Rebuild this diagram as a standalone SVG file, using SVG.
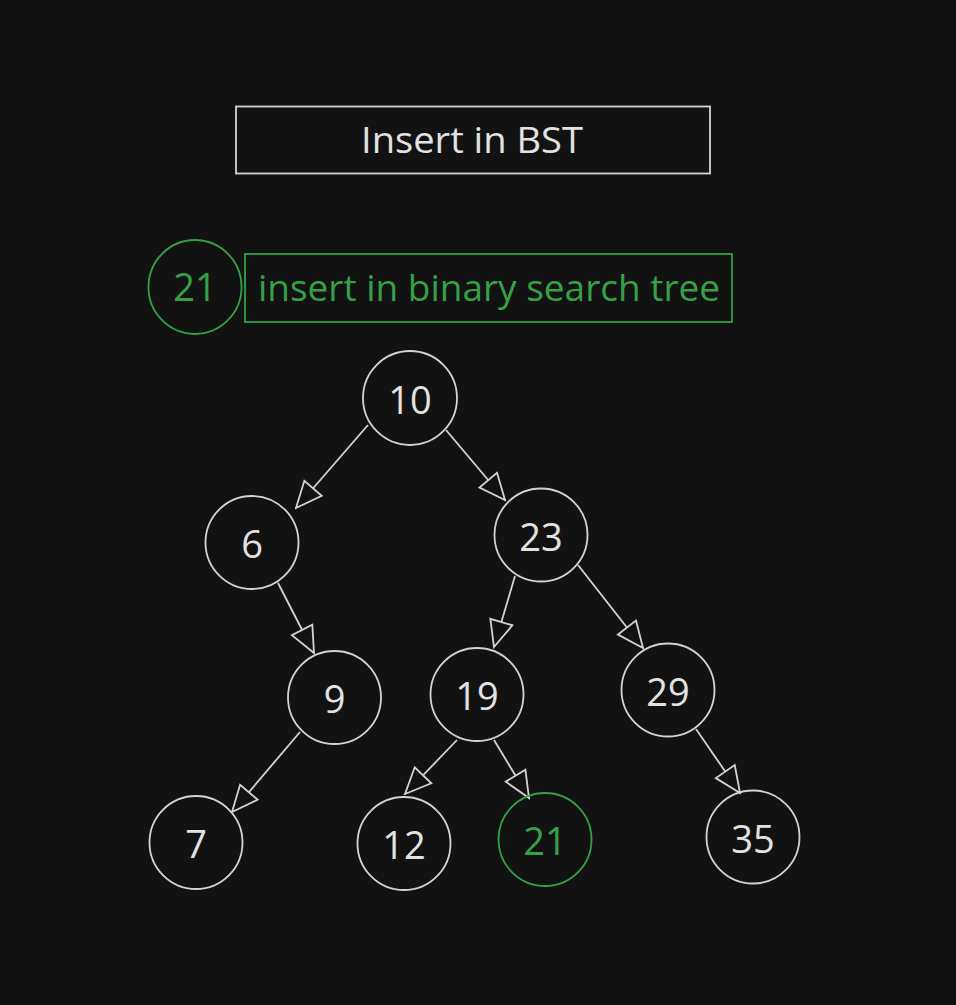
<svg xmlns="http://www.w3.org/2000/svg" width="956" height="1005" viewBox="0 0 956 1005">
<style>
.bg{fill:#121212}
.node{fill:none;stroke:#d4d4d4;stroke-width:1.8}
.gnode{fill:none;stroke:#36a047;stroke-width:1.8}
.lbl{font-family:"Open Sans","Noto Sans",sans-serif;font-size:38px;fill:#e2e2e2;text-anchor:middle}
.glbl{font-family:"Open Sans","Noto Sans",sans-serif;font-size:38px;fill:#36a047;text-anchor:middle}
.edge{stroke:#d4d4d4;stroke-width:1.8;fill:none}
</style>
<defs>
<marker id="tri" viewBox="-30 -14 32 28" refX="0" refY="0" markerWidth="32" markerHeight="28" markerUnits="userSpaceOnUse" orient="auto">
<path d="M0,0 L-26,-11.5 L-26,11.5 Z" fill="#121212" stroke="#d4d4d4" stroke-width="1.8" stroke-linejoin="miter"/>
</marker>
</defs>
<rect class="bg" x="0" y="0" width="956" height="1005"/>

<g id="title">
<rect x="236" y="106.5" width="474" height="67" fill="none" stroke="#d4d4d4" stroke-width="1.8"/>
<text class="lbl" x="472" y="153" style="font-size:36px" textLength="222" lengthAdjust="spacingAndGlyphs">Insert in BST</text>
</g>

<g id="insert-value">
<ellipse class="gnode" cx="195" cy="287" rx="46.5" ry="47"/>
<text class="glbl" x="195" y="301">21</text>
</g>

<g id="insert-label">
<rect x="245" y="254" width="487" height="68" fill="none" stroke="#36a047" stroke-width="1.8"/>
<text class="glbl" x="489" y="301" style="font-size:36px" textLength="462" lengthAdjust="spacingAndGlyphs">insert in binary search tree</text>
</g>

<g id="connectors">
<line class="edge" x1="368" y1="425" x2="296" y2="508" marker-end="url(#tri)"/>
<line class="edge" x1="446" y1="430" x2="505" y2="500" marker-end="url(#tri)"/>
<line class="edge" x1="278" y1="583" x2="314" y2="653" marker-end="url(#tri)"/>
<line class="edge" x1="300" y1="732" x2="232" y2="812" marker-end="url(#tri)"/>
<line class="edge" x1="515" y1="576" x2="494" y2="647" marker-end="url(#tri)"/>
<line class="edge" x1="578" y1="565" x2="643" y2="648" marker-end="url(#tri)"/>
<line class="edge" x1="457" y1="740" x2="405" y2="794" marker-end="url(#tri)"/>
<line class="edge" x1="494" y1="740" x2="529" y2="798" marker-end="url(#tri)"/>
<line class="edge" x1="696" y1="729" x2="740" y2="793" marker-end="url(#tri)"/>
</g>

<g id="n10"><circle class="node" cx="410" cy="398" r="47"/><text class="lbl" x="410" y="413.5">10</text></g>
<g id="n6"><circle class="node" cx="252" cy="542.5" r="46.5"/><text class="lbl" x="252" y="557.5">6</text></g>
<g id="n23"><circle class="node" cx="541" cy="535" r="46.5"/><text class="lbl" x="541" y="550.5">23</text></g>
<g id="n9"><circle class="node" cx="334.5" cy="697.5" r="46.5"/><text class="lbl" x="334.5" y="712.5">9</text></g>
<g id="n19"><circle class="node" cx="477" cy="694.5" r="46.5"/><text class="lbl" x="477" y="709.5">19</text></g>
<g id="n29"><circle class="node" cx="668" cy="690" r="46.5"/><text class="lbl" x="668" y="705.5">29</text></g>
<g id="n7"><circle class="node" cx="196" cy="842.5" r="46.5"/><text class="lbl" x="196" y="857.5">7</text></g>
<g id="n12"><circle class="node" cx="404" cy="843.5" r="46.5"/><text class="lbl" x="404" y="858.5">12</text></g>
<g id="n21"><circle class="gnode" cx="545" cy="839.5" r="46.5"/><text class="glbl" x="545" y="854.5">21</text></g>
<g id="n35"><circle class="node" cx="753" cy="837" r="46.5"/><text class="lbl" x="753" y="852.5">35</text></g>
</svg>
